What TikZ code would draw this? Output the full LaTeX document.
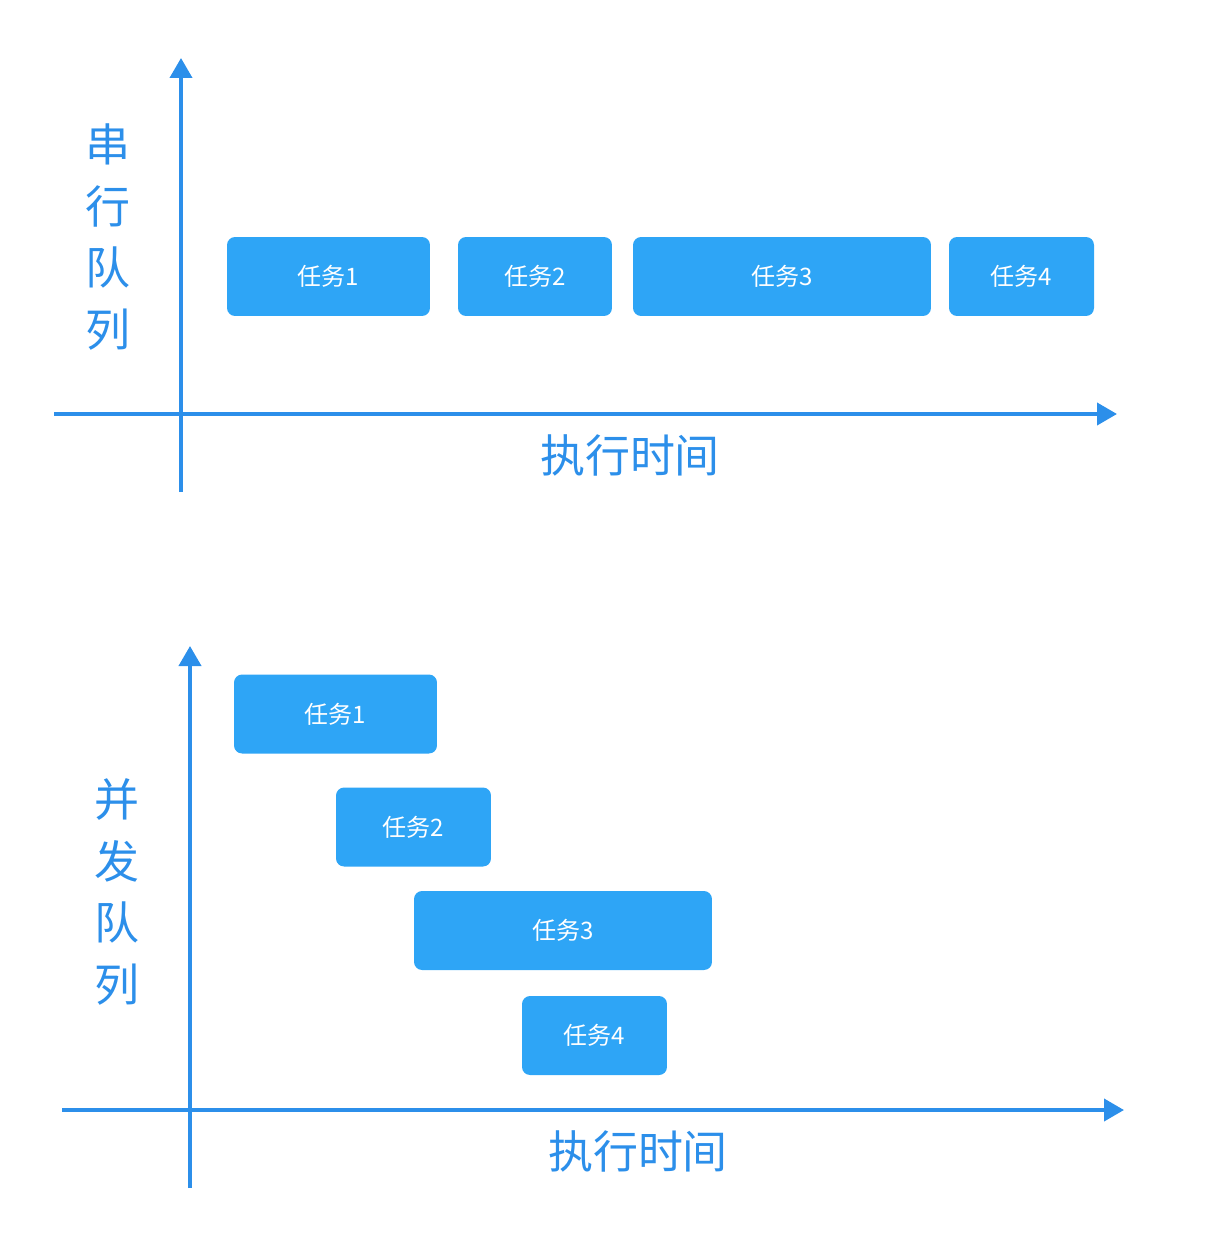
\documentclass[tikz,border=0pt]{standalone}
\usepackage{fontspec}
\setmainfont{Noto Sans CJK SC}
\usetikzlibrary{arrows.meta,positioning}
\definecolor{axisblue}{HTML}{2C8FEA}
\definecolor{taskblue}{HTML}{2EA5F6}
\begin{document}
\begin{tikzpicture}[x=0.02cm,y=-0.02cm,
		axis/.style={draw=axisblue,line width=2.2pt,-{Triangle[width=0.44cm,length=0.4cm]}},
		taskbox/.style={fill=taskblue,rounded corners=0.16cm,minimum height=1.58cm,
			text=white,font=\fontsize{13.7}{16}\selectfont,inner sep=0pt},
		axislabel/.style={text=axisblue,font=\fontsize{25.6}{35.2}\selectfont,align=center}
		]
		\useasboundingbox (0,0) rectangle (1228,1250);
		
		% serial queue
		\coordinate (A0) at (181,492);
		\coordinate (A1) at (181,58);
		\coordinate (B0) at (54,414);
		\coordinate (B1) at (1117,414);
		\draw[axis] (A0) -- (A1);
		\draw[axis] (B0) -- (B1);
		\node[axislabel](L1) at (108,237){串\\行\\队\\列};
		\node[axislabel](T1) at (630,455){执行时间};
		\node[taskbox, minimum width=4.06cm](S1) at (328.5,276.5){任务1};
		\node[taskbox, minimum width=3.08cm](S2) at (535,276.5){任务2};
		\node[taskbox, minimum width=5.96cm](S3) at (782,276.5){任务3};
		\node[taskbox, minimum width=2.9cm](S4) at (1021.5,276.5){任务4};
		
		% concurrent queue
		\coordinate (C0) at (190,1188);
		\coordinate (C1) at (190,646);
		\coordinate (D0) at (62,1110);
		\coordinate (D1) at (1124,1110);
		\draw[axis] (C0) -- (C1);
		\draw[axis] (D0) -- (D1);
		\node[axislabel](L2) at (117,892){并\\发\\队\\列};
		\node[axislabel](T2) at (638,1151){执行时间};
		\node[taskbox, minimum width=4.06cm](P1) at (335.5,714){任务1};
		\node[taskbox, minimum width=3.1cm](P2) at (413.5,827){任务2};
		\node[taskbox, minimum width=5.96cm](P3) at (563,930.5){任务3};
		\node[taskbox, minimum width=2.9cm](P4) at (594.5,1035.5){任务4};
	\end{tikzpicture}
\end{document}
